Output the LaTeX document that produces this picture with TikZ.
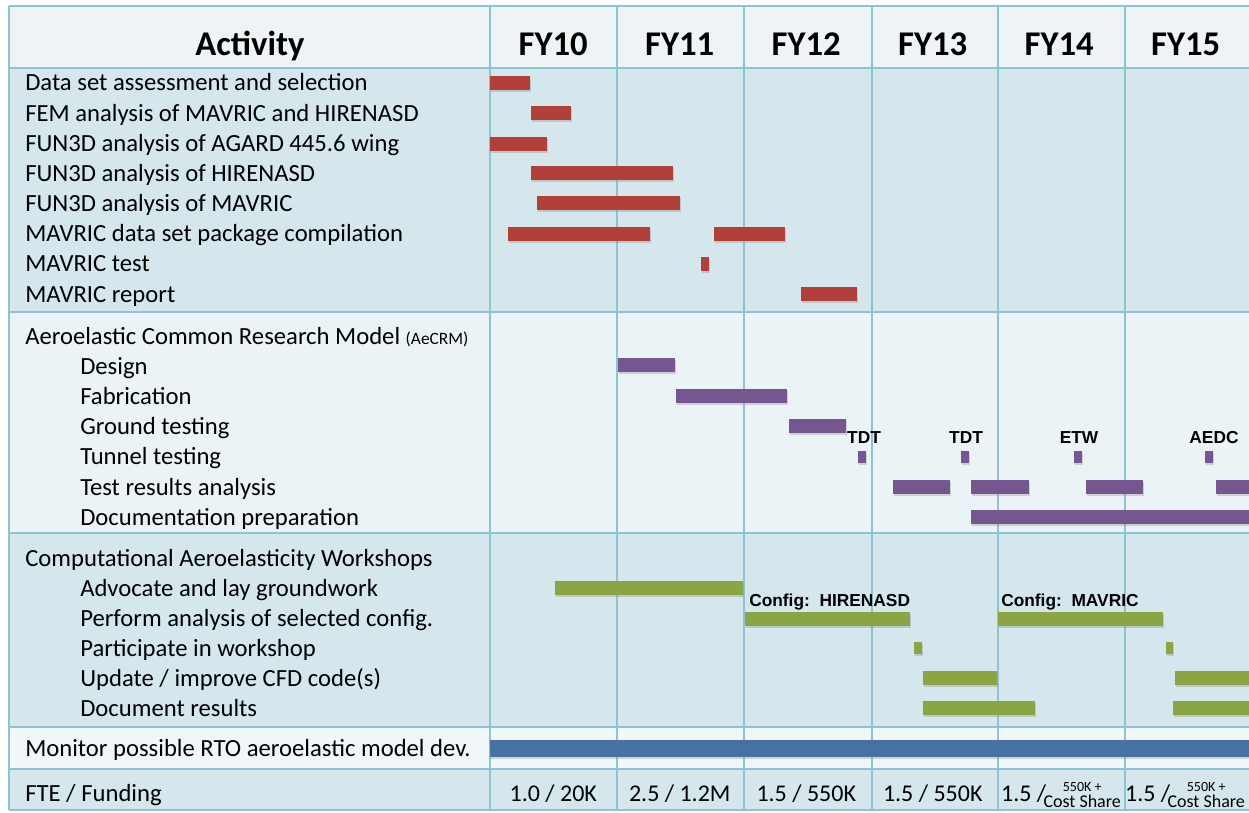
\documentclass[tikz,border=0pt]{standalone}
\usepackage{fontspec}
\setmainfont{Carlito}
\newfontfamily\tagfont{Liberation Sans}
\usetikzlibrary{shadows}
\definecolor{gridc}{RGB}{140,196,212}
\definecolor{headc}{RGB}{238,243,245}
\definecolor{banddark}{RGB}{214,230,237}
\definecolor{bandlight}{RGB}{236,243,246}
\definecolor{bandpale}{RGB}{241,246,248}
\definecolor{barred}{RGB}{178,64,58}
\definecolor{barpurple}{RGB}{118,86,145}
\definecolor{bargreen}{RGB}{139,164,68}
\definecolor{barblue}{RGB}{69,114,163}
\begin{document}
\begin{tikzpicture}[x=0.75pt,y=-0.75pt,
        grid/.style={draw=gridc,line width=1.5pt},
        bar/.style={drop shadow={shadow xshift=1pt,shadow yshift=-1.5pt,opacity=0.3}},
        redbar/.style={bar,fill=barred},
        purplebar/.style={bar,fill=barpurple},
        greenbar/.style={bar,fill=bargreen},
        bluebar/.style={bar,fill=barblue},
        head/.style={anchor=base,inner sep=0pt,font=\fontsize{26}{30}\selectfont\bfseries},
        act/.style={anchor=base west,inner sep=0pt,font=\fontsize{18.5}{22}\selectfont},
        fte/.style={anchor=base,inner sep=0pt,font=\fontsize{18}{22}\selectfont},
        tag/.style={anchor=base,inner sep=0pt,font=\tagfont\fontsize{13}{15}\selectfont\bfseries}]
    \useasboundingbox (0,0) rectangle (1249,813);
    % bands
    \fill[headc] (9,6) rectangle (1249,68);
    \fill[banddark] (9,68) rectangle (1249,312);
    \fill[bandlight] (9,312) rectangle (1249,533);
    \fill[banddark] (9,533) rectangle (1249,727);
    \fill[bandpale] (9,727) rectangle (1249,769);
    \fill[banddark] (9,769) rectangle (1249,810);
    \foreach \y in {6,68,312,533,727,769,810}
        \draw[grid] (9,\y) -- (1249,\y);
    \foreach \x in {9,490,617,744,872,998,1125}
        \draw[grid] (\x,6) -- (\x,810);
    % header
    \node[head] (activity) at (250,56) {Activity};
    \foreach \n [count=\i] in {10,...,15}
        \node[head] (fy\n) at ({490+126.5*(\i-0.5)},56) {FY\n};
    % activities
    \foreach \t [count=\i] in {Data set assessment and selection,
            FEM analysis of MAVRIC and HIRENASD,
            FUN3D analysis of AGARD 445.6 wing,
            FUN3D analysis of HIRENASD,
            FUN3D analysis of MAVRIC,
            MAVRIC data set package compilation,
            MAVRIC test,
            MAVRIC report}
        \node[act] (data\i) at (25,{91+30.15*(\i-1)}) {\t};
    \node[act] (crm) at (25,344) {Aeroelastic Common Research Model {\fontsize{13}{15}\selectfont(AeCRM)}};
    \foreach \t [count=\i] in {Design,Fabrication,Ground testing,Tunnel testing,
            Test results analysis,Documentation preparation}
        \node[act] (crm\i) at (80,{344+30.2*\i}) {\t};
    \node[act] (caw) at (25,566) {Computational Aeroelasticity Workshops};
    \foreach \t [count=\i] in {Advocate and lay groundwork,
            Perform analysis of selected config.,
            Participate in workshop,
            Update / improve CFD code(s),
            Document results}
        \node[act] (caw\i) at (80,{566+30*\i}) {\t};
    \node[act] (rto) at (25,756) {Monitor possible RTO aeroelastic model dev.};
    \node[act] (funding) at (25,801) {FTE / Funding};
    % funding
    \node[fte] (f10) at (553.25,801) {1.0 / 20K};
    \node[fte] (f11) at (679.75,801) {2.5 / 1.2M};
    \node[fte] (f12) at (806.25,801) {1.5 / 550K};
    \node[fte] (f13) at (932.75,801) {1.5 / 550K};
    \node[fte] (f14) at (1061,801) {1.5 /\hspace{-2pt}\raisebox{-5pt}{\fontsize{13.5}{14}\selectfont
        \begin{tabular}[b]{@{}c@{}}{\fontsize{10.5}{11}\selectfont 550K +}\\[-2pt]Cost Share\end{tabular}}};
    \node[fte] (f15) at (1185,801) {1.5 /\hspace{-2pt}\raisebox{-5pt}{\fontsize{13.5}{14}\selectfont
        \begin{tabular}[b]{@{}c@{}}{\fontsize{10.5}{11}\selectfont 550K +}\\[-2pt]Cost Share\end{tabular}}};
    % data set bars
    \fill[redbar] (490,76) rectangle (530,90);
    \fill[redbar] (531,106) rectangle (571,120);
    \fill[redbar] (490,137) rectangle (547,151);
    \fill[redbar] (531,166) rectangle (673,180);
    \fill[redbar] (537,196) rectangle (680,210);
    \fill[redbar] (508,227) rectangle (650,241);
    \fill[redbar] (714,227) rectangle (785,241);
    \fill[redbar] (701,257) rectangle (709,271);
    \fill[redbar] (801,287) rectangle (857,301);
    % AeCRM bars
    \fill[purplebar] (618,358) rectangle (675,372);
    \fill[purplebar] (676,389) rectangle (787,403);
    \fill[purplebar] (789,419) rectangle (846,433);
    \fill[purplebar] (858,451) rectangle (866,463);
    \fill[purplebar] (961,451) rectangle (969,463);
    \fill[purplebar] (1074,451) rectangle (1082,463);
    \fill[purplebar] (1205,451) rectangle (1213,463);
    \fill[purplebar] (893,480) rectangle (950,494);
    \fill[purplebar] (971,480) rectangle (1029,494);
    \fill[purplebar] (1086,480) rectangle (1143,494);
    \fill[purplebar] (1216,480) rectangle (1249,494);
    \fill[purplebar] (971,510) rectangle (1249,524);
    \node[tag] (tdt1) at (864,443) {TDT};
    \node[tag] (tdt2) at (966,443) {TDT};
    \node[tag] (etw) at (1079,443) {ETW};
    \node[tag] (aedc) at (1214,443) {AEDC};
    % workshop bars
    \fill[greenbar] (555,581) rectangle (743,595);
    \fill[greenbar] (745,612) rectangle (910,626);
    \fill[greenbar] (998,612) rectangle (1163,626);
    \fill[greenbar] (914,642) rectangle (922,654);
    \fill[greenbar] (1166,642) rectangle (1173,654);
    \fill[greenbar] (923,671) rectangle (997,685);
    \fill[greenbar] (1175,671) rectangle (1249,685);
    \fill[greenbar] (923,701) rectangle (1035,715);
    \fill[greenbar] (1173,701) rectangle (1249,715);
    \node[tag,anchor=base west] (hirenasd) at (749,606) {Config:\ \ HIRENASD};
    \node[tag,anchor=base west] (mavric) at (1001,606) {Config:\ \ MAVRIC};
    % RTO bar
    \fill[bluebar] (490,740) rectangle (1249,757);
\end{tikzpicture}
\end{document}
